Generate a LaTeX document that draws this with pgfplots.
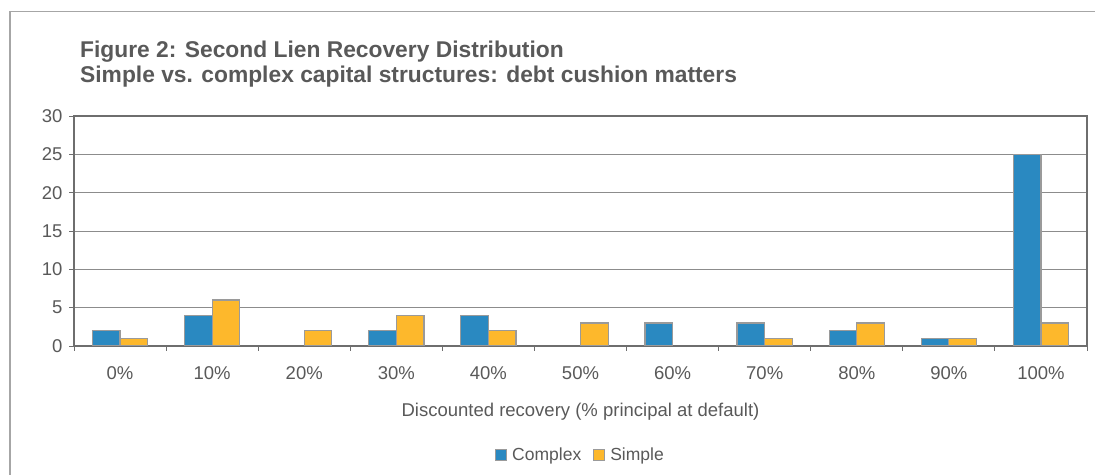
\documentclass[border=0pt]{standalone}
\usepackage{pgfplots}
\pgfplotsset{compat=1.18}
\usepackage{fontspec}
\setmainfont{Liberation Sans}
\definecolor{cblue}{HTML}{2A89C1}
\definecolor{corange}{HTML}{FDB82C}
\definecolor{edgegray}{HTML}{9A9A9A}
\definecolor{txtgray}{HTML}{595959}
\definecolor{axgray}{HTML}{6E6E6E}
\definecolor{gridgray}{HTML}{8C8C8C}
\definecolor{framegray}{HTML}{A6A6A6}
\begin{document}
\begin{tikzpicture}[x=1bp,y=1bp]
\path[use as bounding box] (0,0) rectangle (1095,475);
\draw[framegray, line width=1.4bp] (10,0) -- (10,463.5) -- (1095,463.5);
\node[anchor=base west, inner sep=0, text=txtgray, font=\fontsize{22.8bp}{26bp}\selectfont\bfseries] at (80,417) {Figure 2: Second Lien Recovery Distribution};
\node[anchor=base west, inner sep=0, text=txtgray, font=\fontsize{22.8bp}{26bp}\selectfont\bfseries] at (80,392) {Simple vs. complex capital structures: debt cushion matters};
\begin{axis}[
  at={(74bp,129bp)}, anchor=south west,
  scale only axis, width=1013bp, height=230bp,
  ybar=0pt, bar width=27.6bp,
  xmin=-0.5, xmax=10.5, ymin=0, ymax=30,
  ytick={0,5,...,30},
  xtick={0,...,10},
  xticklabels={0\%,10\%,20\%,30\%,40\%,50\%,60\%,70\%,80\%,90\%,100\%},
  minor xtick={-0.5,0.5,...,10.5},
  major x tick style={draw=none},
  minor x tick style={draw=axgray, line width=0.9bp},
  y tick style={draw=axgray, line width=0.9bp},
  tick align=outside, major tick length=5bp, minor tick length=5bp,
  xtick pos=bottom, ytick pos=left,
  ymajorgrids, major grid style={draw=gridgray, line width=0.9bp},
  axis line style={draw=axgray, line width=1.1bp},
  /pgf/number format/assume math mode=true,
  tick label style={text=txtgray, font=\fontsize{18.5bp}{22bp}\selectfont},
  xticklabel style={anchor=base, yshift=-29bp},
  yticklabel style={xshift=-3bp},
  xlabel={Discounted recovery (\% principal at default)},
  xlabel style={at={(axis description cs:0.5,-0.3087)}, anchor=base, text=txtgray, font=\fontsize{18.5bp}{22bp}\selectfont},
  legend style={at={(0.5,-0.474)}, anchor=center, draw=none, fill=none,
    legend columns=2, font=\fontsize{17.5bp}{21bp}\selectfont, text=txtgray,
    /tikz/every odd column/.append style={column sep=3bp},
    /tikz/every even column/.append style={column sep=10bp}},
  legend image code/.code={\draw[#1, draw=edgegray, line width=1bp] (0bp,-5.5bp) rectangle (11bp,5.5bp);},
  legend cell align=left,
]
\addplot[fill=cblue, draw=edgegray, line width=1.2bp] coordinates {
(0,2) (1,4) (3,2) (4,4) (6,3) (7,3) (8,2) (9,1) (10,25)};
\addplot[fill=corange, draw=edgegray, line width=1.2bp] coordinates {
(0,1) (1,6) (2,2) (3,4) (4,2) (5,3) (7,1) (8,3) (9,1) (10,3)};
\legend{Complex,Simple}
\end{axis}
\end{tikzpicture}
\end{document}
